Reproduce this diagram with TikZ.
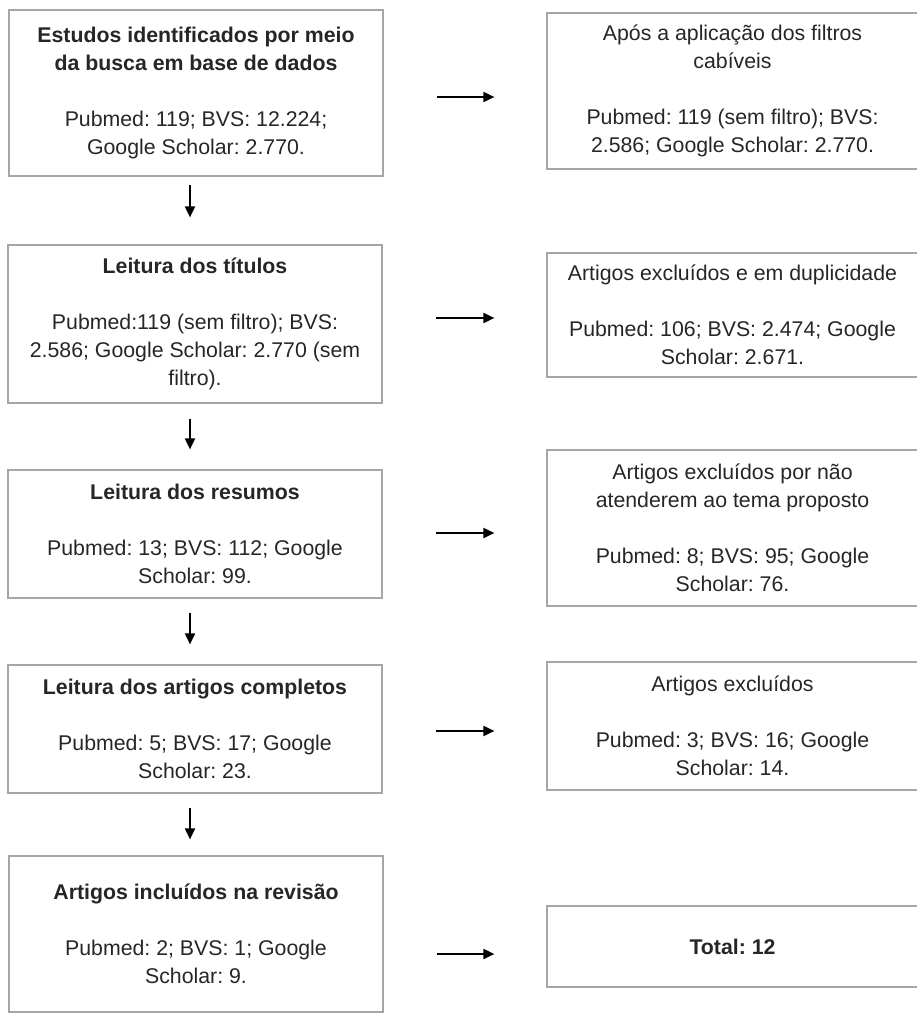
\documentclass[tikz,border=0pt]{standalone}
\usepackage{fontspec}
\setmainfont{Liberation Sans}
\usetikzlibrary{arrows.meta}
\tikzset{
  stage/.style={draw=black!35, line width=1.2pt, minimum width=374pt, inner sep=0pt,
    align=center, text=black!85, font=\fontsize{21.3}{28}\selectfont\frenchspacing},
  outcome/.style={stage, minimum width=371pt},
  flow/.style={-{Triangle[length=11pt,width=10pt]}, line width=1.9pt, black},
}
\begin{document}
\begin{tikzpicture}[x=1pt,y=-1pt]
  \useasboundingbox (0,0) rectangle (916,1016);
  % left column
  \node[stage, minimum height=166pt] (s1) at (196,93)
    {\textbf{Estudos identificados por meio}\\\textbf{da busca em base de dados}\\[28pt]
     Pubmed: 119; BVS: 12.224;\\Google Scholar: 2.770.};
  \node[stage, minimum height=158pt] (s2) at (195,324)
    {\textbf{Leitura dos títulos}\\[28pt]
     Pubmed:119 (sem filtro); BVS:\\2.586; Google Scholar: 2.770 (sem\\filtro).};
  \node[stage, minimum height=128pt] (s3) at (195,534)
    {\textbf{Leitura dos resumos}\\[28pt]
     Pubmed: 13; BVS: 112; Google\\Scholar: 99.};
  \node[stage, minimum height=128pt] (s4) at (195,729)
    {\textbf{Leitura dos artigos completos}\\[28pt]
     Pubmed: 5; BVS: 17; Google\\Scholar: 23.};
  \node[stage, minimum height=156pt] (s5) at (196,934)
    {\textbf{Artigos incluídos na revisão}\\[28pt]
     Pubmed: 2; BVS: 1; Google\\Scholar: 9.};
  % right column
  \node[outcome, minimum height=156pt] (r1) at (732.5,91)
    {Após a aplicação dos filtros\\cabíveis\\[28pt]
     Pubmed: 119 (sem filtro); BVS:\\2.586; Google Scholar: 2.770.};
  \node[outcome, minimum height=124pt] (r2) at (732.5,315)
    {Artigos excluídos e em duplicidade\\[28pt]
     Pubmed: 106; BVS: 2.474; Google\\Scholar: 2.671.};
  \node[outcome, minimum height=156pt] (r3) at (732.5,528)
    {Artigos excluídos por não\\atenderem ao tema proposto\\[28pt]
     Pubmed: 8; BVS: 95; Google\\Scholar: 76.};
  \node[outcome, minimum height=128pt] (r4) at (732.5,726)
    {Artigos excluídos\\[28pt]
     Pubmed: 3; BVS: 16; Google\\Scholar: 14.};
  \node[outcome, minimum height=81pt] (r5) at (732.5,946.5)
    {\textbf{Total: 12}};
  % arrow heights
  \coordinate (h1) at (0,97);
  \coordinate (h2) at (0,318);
  \coordinate (h3) at (0,533);
  \coordinate (h4) at (0,731);
  \coordinate (h5) at (0,954);
  \begin{scope}[flow]
    \draw[shorten <=53pt, shorten >=52pt] (s1.east |- h1) -- (r1.west |- h1);
    \draw[shorten <=53pt, shorten >=52pt] (s2.east |- h2) -- (r2.west |- h2);
    \draw[shorten <=53pt, shorten >=52pt] (s3.east |- h3) -- (r3.west |- h3);
    \draw[shorten <=53pt, shorten >=52pt] (s4.east |- h4) -- (r4.west |- h4);
    \draw[shorten <=53pt, shorten >=52pt] (s5.east |- h5) -- (r5.west |- h5);
    \draw[shorten <=8pt, shorten >=27pt] ([xshift=-6pt]s1.south) -- ([xshift=-5pt]s2.north);
    \draw[shorten <=15pt, shorten >=20pt] ([xshift=-5pt]s2.south) -- ([xshift=-5pt]s3.north);
    \draw[shorten <=14pt, shorten >=20pt] ([xshift=-5pt]s3.south) -- ([xshift=-5pt]s4.north);
    \draw[shorten <=14pt, shorten >=16pt] ([xshift=-5pt]s4.south) -- ([xshift=-6pt]s5.north);
  \end{scope}
\end{tikzpicture}
\end{document}
